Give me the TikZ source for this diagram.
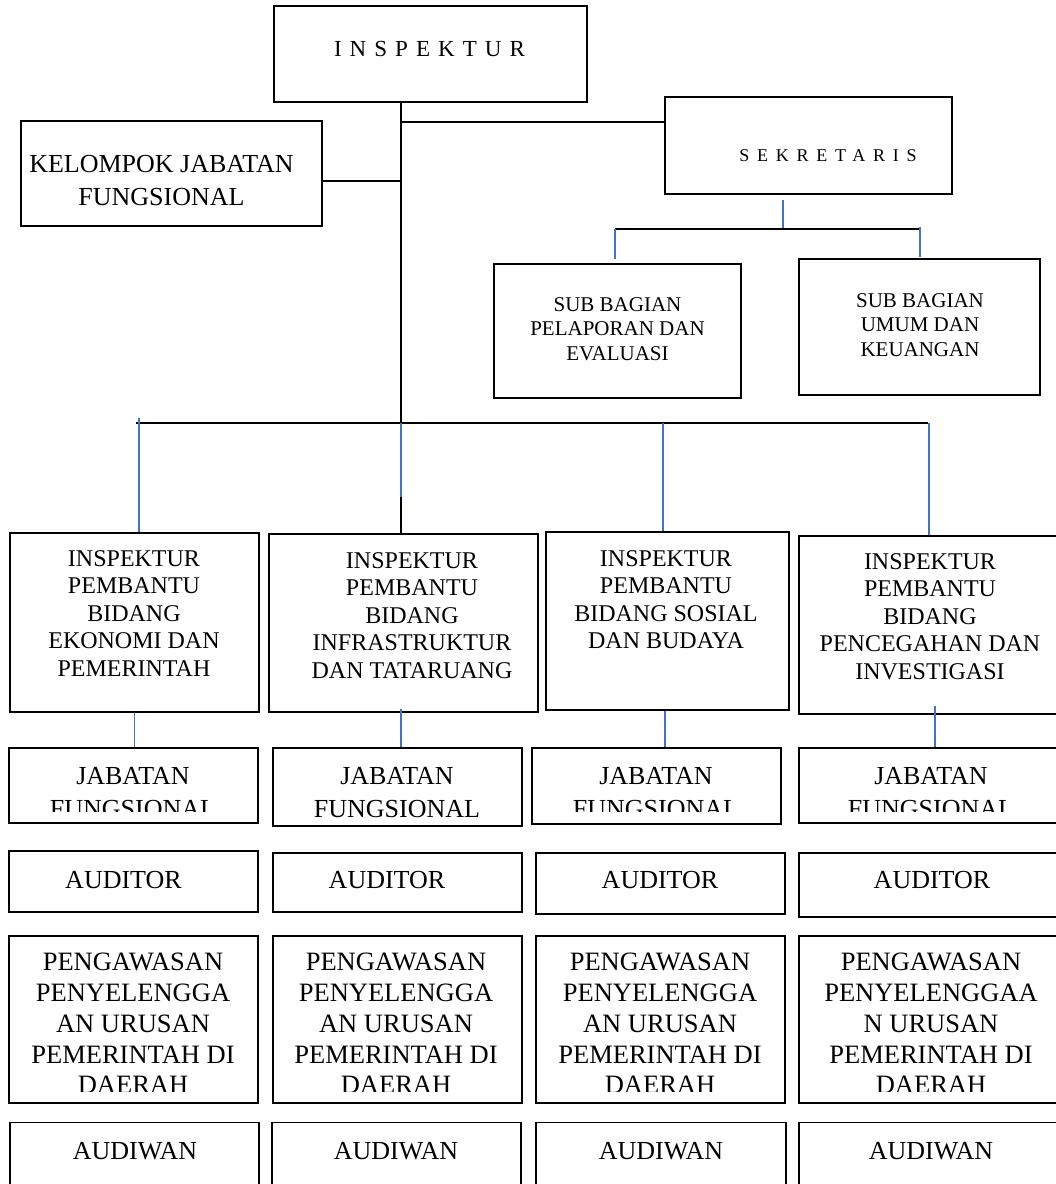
\documentclass[tikz,border=0pt]{standalone}
\usepackage{fontspec}
\setmainfont{Liberation Serif}
\usetikzlibrary{calc}
\definecolor{birugaris}{RGB}{68,114,196}
\newcommand{\hurufkecil}{\fontsize{21}{24.5}\selectfont}
\newcommand{\hurufipb}{\fontsize{24}{27.5}\selectfont}
\newcommand{\hurufjab}{\fontsize{26}{33}\selectfont}
\newcommand{\hurufpeng}{\fontsize{26.5}{30.8}\selectfont}

\begin{document}
\begin{tikzpicture}[x=1pt,y=-1pt,
		kotak/.style={draw,line width=1.8pt,inner sep=0pt},
		garis/.style={line width=1.6pt},
		bus/.style={line width=2.6pt},
		biru/.style={draw=birugaris,line width=1.1pt},
		teks/.style={anchor=north,align=center,inner sep=0pt}]
			\useasboundingbox (0,0) rectangle (1056,1184);

			% pimpinan dan sekretariat
			\node[kotak,minimum width=313,minimum height=96] (insp) at (430.5,54) {};
			\node[teks,font=\fontsize{23}{28}\selectfont\addfontfeatures{LetterSpace=35}] (insp-t) at (429.5,41) {INSPEKTUR};
			\node[kotak,minimum width=287,minimum height=97] (sekr) at (808.5,145.5) {};
			\node[teks,font=\fontsize{18}{22}\selectfont\addfontfeatures{LetterSpace=43}] (sekr-t) at (828,149) {SEKRETARIS};
			\node[kotak,minimum width=301,minimum height=105] (kjf) at (171.5,173.5) {};
			\node[teks,font=\fontsize{26}{33}\selectfont] (kjf-t) at (161.5,155) {KELOMPOK JABATAN\\FUNGSIONAL};
			\node[kotak,minimum width=247,minimum height=134] (subpl) at (617.5,331) {};
			\node[teks,font=\hurufkecil] (subpl-t) at (617.5,297) {SUB BAGIAN\\PELAPORAN DAN\\EVALUASI};
			\node[kotak,minimum width=241,minimum height=136] (subuk) at (919.5,327) {};
			\node[teks,font=\hurufkecil] (subuk-t) at (920,293) {SUB BAGIAN\\UMUM DAN\\KEUANGAN};

			% inspektur pembantu
			\node[kotak,minimum width=249,minimum height=179] (ipb1) at (134.5,622.5) {};
			\node[kotak,minimum width=269,minimum height=178] (ipb2) at (403.5,623) {};
			\node[kotak,minimum width=243,minimum height=178] (ipb3) at (667.5,621) {};
			\node[kotak,minimum width=272,minimum height=178] (ipb4) at (935,625) {};
			\node[teks,font=\hurufipb] (ipb1-t) at (134,550) {INSPEKTUR\\PEMBANTU\\BIDANG\\EKONOMI DAN\\PEMERINTAH};
			\node[teks,font=\hurufipb] (ipb2-t) at (412,552) {INSPEKTUR\\PEMBANTU\\BIDANG\\INFRASTRUKTUR\\DAN TATARUANG};
			\node[teks,font=\hurufipb] (ipb3-t) at (666,550) {INSPEKTUR\\PEMBANTU\\BIDANG SOSIAL\\DAN BUDAYA};
			\node[teks,font=\hurufipb] (ipb4-t) at (930,553) {INSPEKTUR\\PEMBANTU\\BIDANG\\PENCEGAHAN DAN\\INVESTIGASI};

			% jabatan fungsional
			\foreach \n/\cx/\cy/\w/\h in {1/133.5/785.5/249/75, 2/397.5/787/249/78, 3/656.5/786/249/76, 4/931.5/785.5/265/75}
			{
				\node[kotak,minimum width=\w,minimum height=\h] (jf\n) at (\cx,\cy) {};
			}
			\begin{scope}
				\clip (0,740) rectangle (1056,811);
				\foreach \n/\tx in {1/133, 3/656, 4/931}
				{
					\node[teks,font=\hurufjab] (jf\n-t) at (\tx,767) {JABATAN\\FUNGSIONAL};
				}
			\end{scope}
			\node[teks,font=\hurufjab] (jf2-t) at (397,767) {JABATAN\\FUNGSIONAL};

			% auditor
			\foreach \n/\cx/\cy/\w/\h/\tx in {1/133.5/881.5/249/61/123.5, 2/397.5/882.5/249/59/387, 3/660.5/883.5/249/61/660, 4/931.5/885/265/64/932}
			{
				\node[kotak,minimum width=\w,minimum height=\h] (aud\n) at (\cx,\cy) {};
				\node[teks,font=\hurufjab] (aud\n-t) at (\tx,871) {AUDITOR};
			}

			% pengawasan
			\foreach \n/\cx/\w in {1/133.5/249, 2/397.5/249, 3/660.5/249, 4/931.5/265}
			{
				\node[kotak,minimum width=\w,minimum height=167] (peng\n) at (\cx,1019.5) {};
			}
			\begin{scope}
				\clip (0,930) rectangle (1056,1091);
				\foreach \n/\tx in {1/133, 2/396, 3/660}
				{
					\node[teks,font=\hurufpeng] (peng\n-t) at (\tx,953) {PENGAWASAN\\PENYELENGGA\\AN URUSAN\\PEMERINTAH DI\\DAERAH};
				}
				\node[teks,font=\hurufpeng] (peng4-t) at (931,953) {PENGAWASAN\\PENYELENGGAA\\N URUSAN\\PEMERINTAH DI\\DAERAH};
			\end{scope}

			% audiwan
			\foreach \n/\cx/\w/\tx in {1/134.5/249/135, 2/396.5/249/396, 3/661/250/661, 4/931.5/265/931}
			{
				\node[kotak,minimum width=\w,minimum height=78] (audw\n) at (\cx,1161.5) {};
				\node[teks,font=\hurufjab] (audw\n-t) at (\tx,1142) {AUDIWAN};
			}

			% garis hubungan
			\coordinate (tr) at (401,0);
			\coordinate (sk) at (401,122);
			\coordinate (kj) at (401,181);
			\coordinate (sb) at (783,229);
			\coordinate (sbl) at (615,229);
			\coordinate (sbr) at (920,229);
			\coordinate (bl) at (136,423);
			\coordinate (br) at (928,423);
			\foreach \n/\x in {1/139, 2/401, 3/663, 4/929}
			{
				\coordinate (d\n) at (\x,423);
			}
			\coordinate (d2e) at (401,497);
			\draw[garis] (insp.south -| tr) -- (ipb2.north -| tr);
			\draw[garis] (sk) -- (sk -| sekr.west);
			\draw[garis] (kj) -- (kj -| kjf.east);
			\draw[biru] (sekr.south -| sb) ++(0,5) -- (sb);
			\draw[garis] (sbl) -- (sbr);
			\draw[biru] (sbl) -- ++(0,30);
			\draw[biru] (sbr) ++(0,-2) -- ++(0,30);
			\draw[bus] (bl) -- (br);
			\draw[biru] (d1) ++(0,-5) -- (d1 |- ipb1.north);
			\draw[biru] (d2) -- (d2e);
			\draw[biru] (d3) -- (d3 |- ipb3.north);
			\draw[biru] (d4) -- (d4 |- ipb4.north);
			\draw[biru] (ipb1.south) -- (ipb1.south |- jf1.north);
			\draw[biru] (ipb2.south -| tr) ++(0,-4) -- (jf2.north -| tr);
			\draw[biru] (ipb3.south) ++(-2.5,0) -- (jf3.north -| 665,0);
			\draw[biru] (ipb4.south) ++(0,-9) -- (ipb4.south |- jf4.north);
		\end{tikzpicture}
\end{document}
